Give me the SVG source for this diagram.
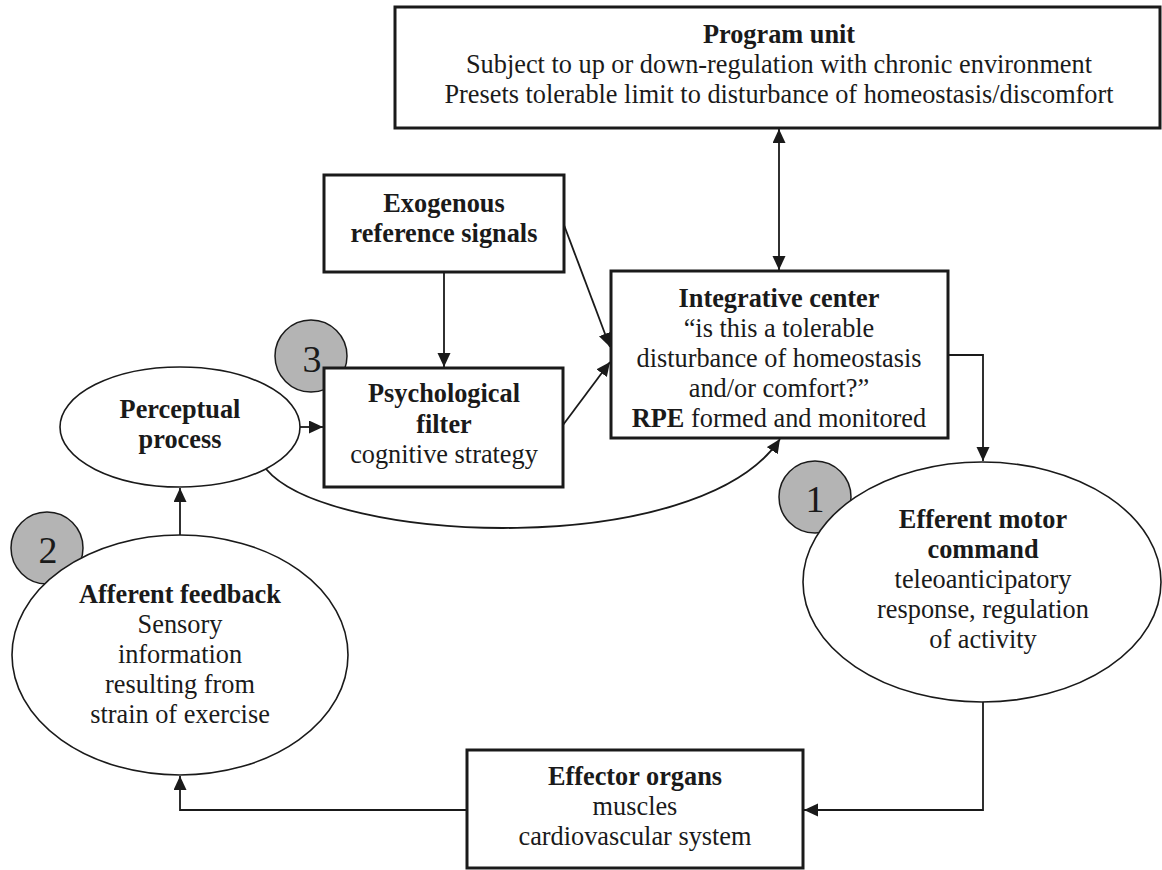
<svg xmlns="http://www.w3.org/2000/svg" width="1162" height="870" viewBox="0 0 1162 870">
  <style>
    .box { fill: #ffffff; stroke: #1a1a1a; stroke-width: 3; }
    .oval { fill: #ffffff; stroke: #1a1a1a; stroke-width: 1.6; }
    .badge { fill: #b4b4b4; stroke: #1a1a1a; stroke-width: 1.5; }
    .wire { fill: none; stroke: #1a1a1a; stroke-width: 1.8; }
    text { font-family: "Liberation Serif", "Times New Roman", serif; font-size: 28px; fill: #1a1a1a; text-anchor: middle; }
    .b { font-weight: bold; }
    .num { font-size: 38px; }
  </style>
  <defs>
    <marker id="head" markerUnits="userSpaceOnUse" markerWidth="15" markerHeight="14" refX="14" refY="6.5" orient="auto-start-reverse">
      <path d="M0,0 L14,6.5 L0,13 z" fill="#1a1a1a"/>
    </marker>
  </defs>
  <rect width="1162" height="870" fill="#ffffff"/>

  <!-- numbered badges sit behind their nodes -->
  <g id="badge-3">
    <circle class="badge" cx="311" cy="356" r="36"/>
    <text class="num" x="312" y="372">3</text>
  </g>
  <g id="badge-2">
    <circle class="badge" cx="47" cy="548" r="36"/>
    <text class="num" x="48" y="563">2</text>
  </g>
  <g id="badge-1">
    <circle class="badge" cx="815" cy="497" r="36"/>
    <text class="num" x="815" y="512">1</text>
  </g>

  <!-- labels are set slightly condensed: matrix(0.94,0,0,1,0.06*cx,0) keeps them centred on cx -->
  <g id="program-unit">
    <rect class="box" x="395" y="7" width="765" height="121"/>
    <g transform="matrix(0.94,0,0,1,46.74,0)">
      <text class="b" x="779" y="43">Program unit</text>
      <text x="779" y="73">Subject to up or down-regulation with chronic environment</text>
      <text x="779" y="103">Presets tolerable limit to disturbance of homeostasis/discomfort</text>
    </g>
  </g>

  <g id="exogenous">
    <rect class="box" x="324" y="175" width="240" height="97"/>
    <g transform="matrix(0.94,0,0,1,26.64,0)">
      <text class="b" x="444" y="212">Exogenous</text>
      <text class="b" x="444" y="242">reference signals</text>
    </g>
  </g>

  <g id="psych-filter">
    <rect class="box" x="324" y="368" width="239" height="119"/>
    <g transform="matrix(0.94,0,0,1,26.64,0)">
      <text class="b" x="444" y="402">Psychological</text>
      <text class="b" x="444" y="433">filter</text>
      <text x="444" y="463">cognitive strategy</text>
    </g>
  </g>

  <g id="integrative">
    <rect class="box" x="611" y="271" width="337" height="167"/>
    <g transform="matrix(0.94,0,0,1,46.74,0)">
      <text class="b" x="779" y="307">Integrative center</text>
      <text x="779" y="337">“is this a tolerable</text>
      <text x="779" y="367">disturbance of homeostasis</text>
      <text x="779" y="397">and/or comfort?”</text>
      <text x="779" y="427"><tspan class="b">RPE</tspan> formed and monitored</text>
    </g>
  </g>

  <g id="perceptual">
    <ellipse class="oval" cx="180" cy="427" rx="120" ry="60"/>
    <g transform="matrix(0.94,0,0,1,10.8,0)">
      <text class="b" x="180" y="418">Perceptual</text>
      <text class="b" x="180" y="448">process</text>
    </g>
  </g>

  <g id="afferent">
    <ellipse class="oval" cx="180" cy="655" rx="168" ry="120"/>
    <g transform="matrix(0.94,0,0,1,10.8,0)">
      <text class="b" x="180" y="603">Afferent feedback</text>
      <text x="180" y="633">Sensory</text>
      <text x="180" y="663">information</text>
      <text x="180" y="693">resulting from</text>
      <text x="180" y="723">strain of exercise</text>
    </g>
  </g>

  <g id="efferent">
    <ellipse class="oval" cx="982" cy="582" rx="179" ry="120"/>
    <g transform="matrix(0.94,0,0,1,58.98,0)">
      <text class="b" x="983" y="528">Efferent motor</text>
      <text class="b" x="983" y="558">command</text>
      <text x="983" y="588">teleoanticipatory</text>
      <text x="983" y="618">response, regulation</text>
      <text x="983" y="648">of activity</text>
    </g>
  </g>

  <g id="effector">
    <rect class="box" x="467" y="750" width="336" height="118"/>
    <g transform="matrix(0.94,0,0,1,38.1,0)">
      <text class="b" x="635" y="785">Effector organs</text>
      <text x="635" y="815">muscles</text>
      <text x="635" y="845">cardiovascular system</text>
    </g>
  </g>

  <g id="connectors">
    <line class="wire" x1="779" y1="129" x2="779" y2="270" marker-start="url(#head)" marker-end="url(#head)"/>
    <line class="wire" x1="444" y1="273" x2="444" y2="367" marker-end="url(#head)"/>
    <line class="wire" x1="564" y1="225" x2="610" y2="347" marker-end="url(#head)"/>
    <line class="wire" x1="563" y1="425" x2="610" y2="362" marker-end="url(#head)"/>
    <line class="wire" x1="300" y1="427" x2="323" y2="427" marker-end="url(#head)"/>
    <path class="wire" d="M266,469 C330,545 700,560 780,439" marker-end="url(#head)"/>
    <polyline class="wire" points="949,355 983,355 983,461" marker-end="url(#head)"/>
    <polyline class="wire" points="983,702 983,810 804,810" marker-end="url(#head)"/>
    <polyline class="wire" points="466,810 180,810 180,776" marker-end="url(#head)"/>
    <line class="wire" x1="180" y1="535" x2="180" y2="488" marker-end="url(#head)"/>
  </g>
</svg>
